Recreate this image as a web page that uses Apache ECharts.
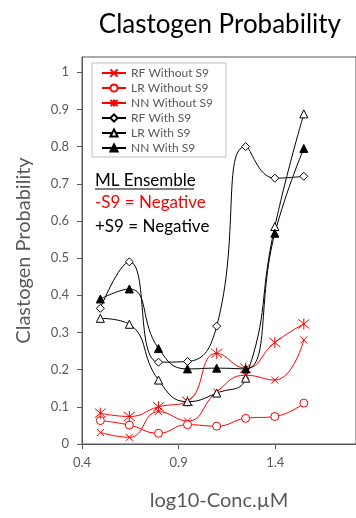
<!DOCTYPE html>
<html>
<head>
<meta charset="utf-8">
<script src="https://cdn.jsdelivr.net/npm/echarts@6/dist/echarts.min.js"></script>
<style>
  html, body { margin: 0; padding: 0; background: #fff; }
  #box { width: 356px; height: 518px; }
</style>
</head>
<body>
<div id="box"></div>
<script>
// log10 of concentrations (3.125 uM steps of sqrt 2)
var concLog = [0.495, 0.645, 0.796, 0.946, 1.097, 1.247, 1.398, 1.548];
var xTicks = [0.4, 0.9, 1.4];
var yTicks = [0, 0.1, 0.2, 0.3, 0.4, 0.5, 0.6, 0.7, 0.8, 0.9, 1];

var rfWithout = [0.031, 0.018, 0.087, 0.062, 0.14, 0.185, 0.172, 0.28];
var lrWithout = [0.063, 0.051, 0.029, 0.052, 0.048, 0.069, 0.074, 0.11];
var nnWithout = [0.083, 0.074, 0.100, 0.115, 0.244, 0.204, 0.273, 0.323];
var rfWith = [0.365, 0.49, 0.22, 0.222, 0.317, 0.80, 0.715, 0.72];
var lrWith = [0.338, 0.322, 0.172, 0.114, 0.137, 0.177, 0.585, 0.888];
var nnWith = [0.39, 0.417, 0.257, 0.202, 0.204, 0.202, 0.567, 0.795];

var FONT = 'Lato';
var GRAY = '#595959';
var RED = '#ff0000';

var crossPath = 'path://M0,0L10,10M10,0L0,10';
var starPath = 'path://M0,0L10,10M10,0L0,10M5,-1L5,11';

function pairs(vals) {
  return concLog.map(function(x, i) { return [x, vals[i]]; });
}

function mkSeries(name, vals, color, symbol, size, fill) {
  return {
    name: name,
    type: 'line',
    smooth: 0.5,
    symbol: symbol,
    symbolSize: size,
    showSymbol: true,
    lineStyle: { color: color, width: 1 },
    itemStyle: { color: fill, borderColor: color, borderWidth: 1 },
    emphasis: { disabled: true },
    data: pairs(vals)
  };
}

var chart = echarts.init(document.getElementById('box'));

option = {
  animation: false,
  backgroundColor: '#fff',
  title: {
    text: 'Clastogen Probability',
    right: 10,
    top: 7,
    textStyle: { fontFamily: FONT, fontSize: 26, fontWeight: 'normal', color: '#000' }
  },
  legend: {
    orient: 'vertical',
    left: 92,
    top: 63,
    padding: [4, 13, 3, 9],
    itemGap: 3,
    itemWidth: 24,
    itemHeight: 9,
    borderColor: '#bfbfbf',
    borderWidth: 1,
    backgroundColor: '#fff',
    textStyle: { fontFamily: FONT, fontSize: 12, color: GRAY, lineHeight: 12 },
    data: ['RF Without S9', 'LR Without S9', 'NN Without S9', 'RF With S9', 'LR With S9', 'NN With S9']
  },
  grid: {
    left: 82,
    top: 57,
    width: 280,
    height: 387,
    show: true,
    borderColor: GRAY,
    borderWidth: 1
  },
  xAxis: {
    type: 'value',
    min: 0.4,
    max: 1.818,
    name: 'log10-Conc.µM',
    nameLocation: 'middle',
    nameGap: 47,
    nameTextStyle: { fontFamily: FONT, fontSize: 20, color: GRAY },
    axisLine: { lineStyle: { color: GRAY } },
    axisTick: { show: true, length: 5, customValues: xTicks, lineStyle: { color: GRAY } },
    axisLabel: {
      customValues: xTicks,
      margin: 12,
      fontFamily: FONT, fontSize: 13, color: GRAY,
      formatter: function(v) { return v.toFixed(1); }
    },
    splitLine: { show: false }
  },
  yAxis: {
    type: 'value',
    min: 0,
    max: 1.041,
    name: 'Clastogen Probability',
    nameLocation: 'middle',
    nameGap: 48,
    nameTextStyle: { fontFamily: FONT, fontSize: 20, color: GRAY },
    axisLine: { show: true, lineStyle: { color: GRAY } },
    axisTick: { show: true, length: 5, customValues: yTicks, lineStyle: { color: GRAY } },
    axisLabel: {
      customValues: yTicks,
      margin: 13,
      fontFamily: FONT, fontSize: 13, color: GRAY,
      formatter: function(v) { return v === 0 || v === 1 ? String(v) : v.toFixed(1); }
    },
    splitLine: { show: false }
  },
  graphic: [
    { type: 'text', left: 95, top: 172,
      style: { text: 'ML Ensemble', font: '17px Lato', fill: '#000' } },
    { type: 'line', shape: { x1: 95, y1: 189, x2: 194, y2: 189 },
      style: { stroke: '#000', lineWidth: 1.2 } },
    { type: 'text', left: 95, top: 194,
      style: { text: '-S9 = Negative', font: '17px Lato', fill: RED } },
    { type: 'text', left: 95, top: 218,
      style: { text: '+S9 = Negative', font: '17px Lato', fill: '#000' } }
  ],
  series: [
    mkSeries('RF Without S9', rfWithout, RED, crossPath, 7, 'rgba(0,0,0,0)'),
    mkSeries('LR Without S9', lrWithout, RED, 'circle', 8, '#fff'),
    mkSeries('NN Without S9', nnWithout, RED, starPath, 11, 'rgba(0,0,0,0)'),
    mkSeries('RF With S9', rfWith, '#000', 'diamond', 8, '#fff'),
    mkSeries('LR With S9', lrWith, '#000', 'triangle', 8, '#fff'),
    mkSeries('NN With S9', nnWith, '#000', 'triangle', 8, '#000')
  ]
};

chart.setOption(option);
</script>
</body>
</html>
